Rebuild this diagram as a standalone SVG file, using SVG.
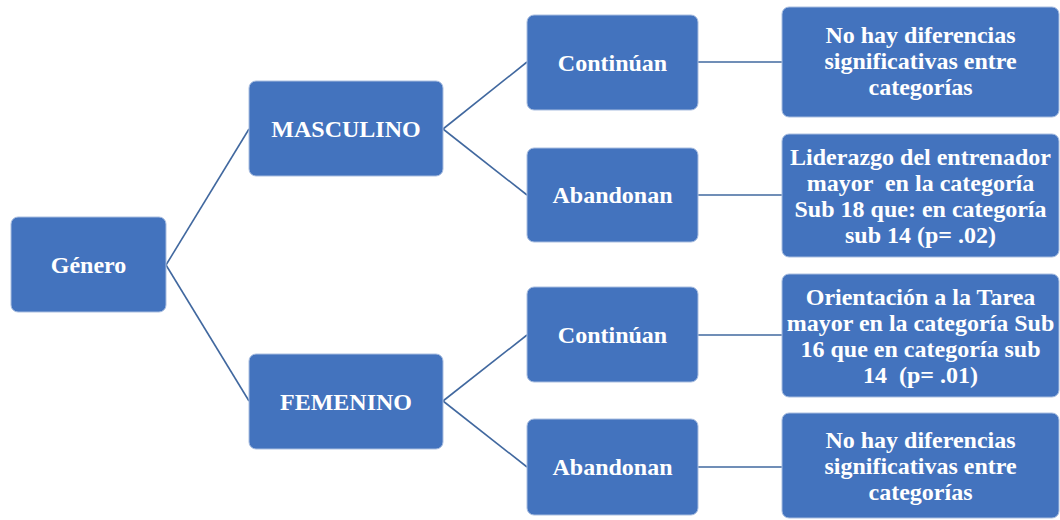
<svg xmlns="http://www.w3.org/2000/svg" width="1060" height="520" viewBox="0 0 1060 520">
  <style>
    .box { fill: #4373BE; stroke: #A9BEE0; stroke-width: 1; }
    .lbl { font-family: "Liberation Serif", "Times New Roman", serif; font-weight: bold; font-size: 24px; fill: #FFFFFF; text-anchor: middle; }
    .wire { stroke: #41689F; stroke-width: 1.6; fill: none; }
  </style>

  <!-- connectors -->
  <g id="connectors">
    <line class="wire" x1="166" y1="265" x2="249" y2="129"/>
    <line class="wire" x1="166" y1="265" x2="249" y2="401"/>
    <line class="wire" x1="443" y1="129" x2="527" y2="62"/>
    <line class="wire" x1="443" y1="129" x2="527" y2="195"/>
    <line class="wire" x1="443" y1="401" x2="527" y2="335"/>
    <line class="wire" x1="443" y1="401" x2="527" y2="467"/>
    <line class="wire" x1="698" y1="62" x2="782" y2="62"/>
    <line class="wire" x1="698" y1="195" x2="782" y2="195"/>
    <line class="wire" x1="698" y1="335" x2="782" y2="335"/>
    <line class="wire" x1="698" y1="467" x2="782" y2="467"/>
  </g>

  <!-- root -->
  <g id="genero">
    <rect class="box" x="11" y="217" width="155" height="95" rx="7"/>
    <text class="lbl" x="88.5" y="273">Género</text>
  </g>

  <!-- gender level -->
  <g id="masculino">
    <rect class="box" x="249" y="81" width="194" height="95" rx="7"/>
    <text class="lbl" x="346" y="137">MASCULINO</text>
  </g>
  <g id="femenino">
    <rect class="box" x="249" y="354" width="194" height="95" rx="7"/>
    <text class="lbl" x="346" y="410">FEMENINO</text>
  </g>

  <!-- status level -->
  <g id="masc-continuan">
    <rect class="box" x="527" y="15" width="171" height="95" rx="7"/>
    <text class="lbl" x="612.5" y="70.5">Continúan</text>
  </g>
  <g id="masc-abandonan">
    <rect class="box" x="527" y="148" width="171" height="94" rx="7"/>
    <text class="lbl" x="612.5" y="203">Abandonan</text>
  </g>
  <g id="fem-continuan">
    <rect class="box" x="527" y="287" width="171" height="95" rx="7"/>
    <text class="lbl" x="612.5" y="342.5">Continúan</text>
  </g>
  <g id="fem-abandonan">
    <rect class="box" x="527" y="419" width="171" height="96" rx="7"/>
    <text class="lbl" x="612.5" y="475">Abandonan</text>
  </g>

  <!-- results -->
  <g id="res-masc-continuan">
    <rect class="box" x="782" y="7" width="277" height="110" rx="7"/>
    <text class="lbl" x="920.5" y="43">No hay diferencias</text>
    <text class="lbl" x="920.5" y="69">significativas entre</text>
    <text class="lbl" x="920.5" y="95">categorías</text>
  </g>
  <g id="res-masc-abandonan">
    <rect class="box" x="782" y="134" width="277" height="123" rx="7"/>
    <text class="lbl" x="920.5" y="164.5">Liderazgo del entrenador</text>
    <text class="lbl" x="920.5" y="190.5" xml:space="preserve">mayor  en la categoría</text>
    <text class="lbl" x="920.5" y="216.5">Sub 18 que: en categoría</text>
    <text class="lbl" x="920.5" y="242.5">sub 14 (p= .02)</text>
  </g>
  <g id="res-fem-continuan">
    <rect class="box" x="782" y="274" width="277" height="123" rx="7"/>
    <text class="lbl" x="920.5" y="304.5">Orientación a la Tarea</text>
    <text class="lbl" x="920.5" y="330.5">mayor en la categoría Sub</text>
    <text class="lbl" x="920.5" y="356.5">16 que en categoría sub</text>
    <text class="lbl" x="920.5" y="382.5" xml:space="preserve">14  (p= .01)</text>
  </g>
  <g id="res-fem-abandonan">
    <rect class="box" x="782" y="413" width="277" height="105" rx="7"/>
    <text class="lbl" x="920.5" y="447.5">No hay diferencias</text>
    <text class="lbl" x="920.5" y="473.5">significativas entre</text>
    <text class="lbl" x="920.5" y="499.5">categorías</text>
  </g>
</svg>
